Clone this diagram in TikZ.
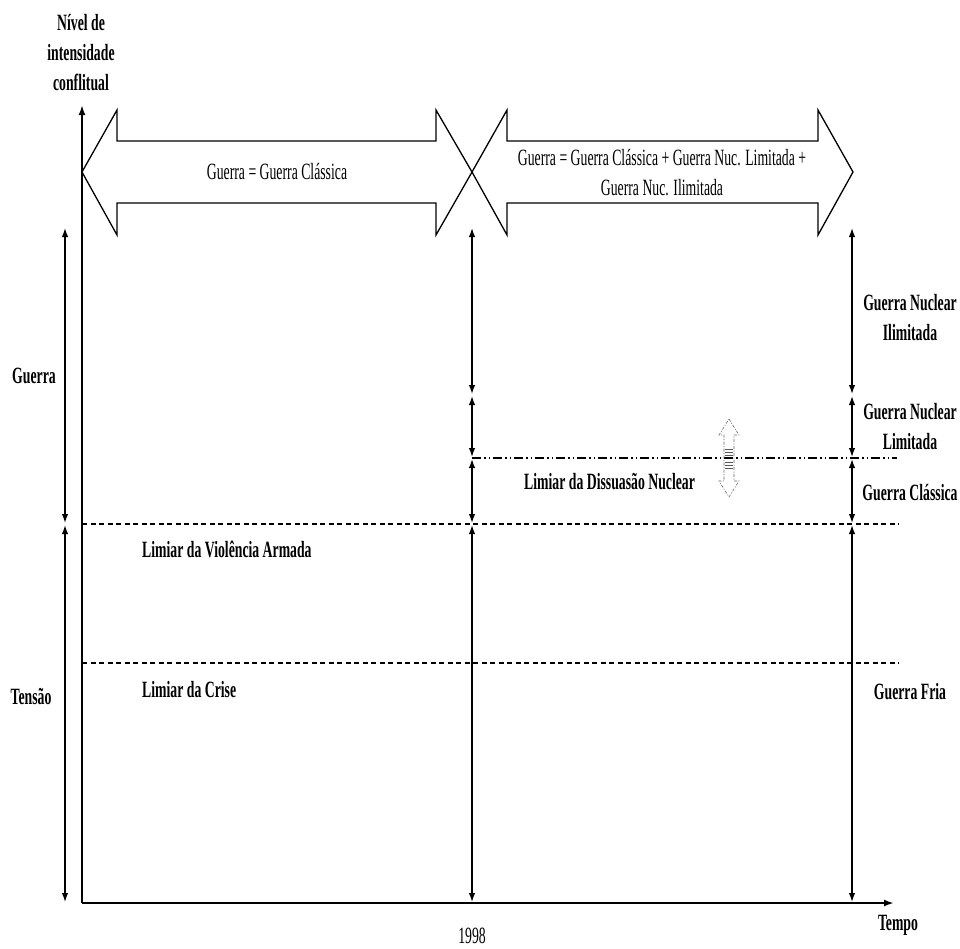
\documentclass[tikz,border=0pt]{standalone}
\usepackage{fontspec}
\setmainfont{Liberation Serif}[FakeStretch=0.59]
\usetikzlibrary{arrows.meta}
\begin{document}
\begin{tikzpicture}[x=1pt,y=-1pt,
  txt/.style={inner sep=0pt,font=\fontsize{23.3}{30}\selectfont,align=center},
  btxt/.style={inner sep=0pt,font=\fontsize{23.3}{30}\selectfont\bfseries,align=center},
  axis/.style={line width=2pt,-{Latex[length=10pt,width=7pt]}},
  darr/.style={line width=1.4pt,{Latex[length=9pt,width=6.5pt]}-{Latex[length=9pt,width=6.5pt]},shorten <=1pt,shorten >=1pt},
  blockarrow/.style={line width=1.3pt,draw=black},
  thr/.style={line width=1.4pt,dash pattern=on 5pt off 3.5pt},
  nuc/.style={line width=1.4pt,dash pattern=on 9pt off 3pt on 1.5pt off 3pt on 1.5pt off 3pt},
  small/.style={line width=0.6pt,draw=gray!80!black,dash pattern=on 3pt off 1.5pt on 1pt off 1.5pt}
]
\useasboundingbox (0,0) rectangle (960,948);

% axes
\coordinate (O) at (82,903);
\coordinate (Ytop) at (82,105);
\coordinate (Xend) at (894,903);
\draw[axis] (O) -- (Ytop);
\draw[axis] (O) -- (Xend);

% block arrows
\draw[blockarrow] (82,172) -- (117,110) -- (117,141) -- (436,141) -- (436,110) -- (472,172)
  -- (436,235) -- (436,203) -- (117,203) -- (117,235) -- cycle;
\draw[blockarrow] (472,172) -- (507,110) -- (507,141) -- (818,141) -- (818,110) -- (853,172)
  -- (818,235) -- (818,203) -- (507,203) -- (507,235) -- cycle;
\node[txt] (gclass) at (277,172) {Guerra = Guerra Clássica};
\node[txt] (gall) at (662,173) {Guerra = Guerra Clássica + Guerra Nuc. Limitada +\\Guerra Nuc. Ilimitada};

% level coordinates
\coordinate (L1) at (65,227);
\coordinate (L2) at (65,524);
\coordinate (L3) at (65,903);
\coordinate (M1) at (472,227);
\coordinate (M2) at (472,395);
\coordinate (M3) at (472,458);
\coordinate (M4) at (472,524);
\coordinate (M5) at (472,903);
\coordinate (R1) at (852,227);
\coordinate (R2) at (852,395);
\coordinate (R3) at (852,458);
\coordinate (R4) at (852,524);
\coordinate (R5) at (852,903);

% threshold lines
\coordinate (VA0) at (82,524);
\coordinate (VA1) at (899,524);
\coordinate (CR0) at (82,663);
\coordinate (CR1) at (899,663);
\coordinate (DN1) at (897,458);
\draw[thr] (VA0) -- (VA1);
\draw[thr] (CR0) -- (CR1);
\draw[nuc] (M3) -- (DN1);

% vertical double arrows
\draw[darr] (L1) -- (L2);
\draw[darr] (L2) -- (L3);
\draw[darr] (M1) -- (M2);
\draw[darr] (M2) -- (M3);
\draw[darr] (M3) -- (M4);
\draw[darr] (M4) -- (M5);
\draw[darr] (R1) -- (R2);
\draw[darr] (R2) -- (R3);
\draw[darr] (R3) -- (R4);
\draw[darr] (R4) -- (R5);

% small dashed up-down arrow
\draw[small] (729,419) -- (739,435) -- (734,435) -- (734,481) -- (739,481) -- (729,497)
  -- (719,481) -- (724,481) -- (724,435) -- (719,435) -- cycle;
\foreach \yy in {449,452,455,462,465,468}
  \draw[line width=0.5pt,draw=gray!70!black] (725,\yy) -- (733,\yy);

% labels
\node[btxt] (nivel) at (81,53) {Nível de\\intensidade\\conflitual};
\node[btxt] (guerra) at (34,376) {Guerra};
\node[btxt] (tensao) at (31,696) {Tensão};
\node[btxt,anchor=west] (lva) at (142,549) {Limiar da Violência Armada};
\node[btxt,anchor=west] (lcr) at (142,690) {Limiar da Crise};
\node[btxt,anchor=west] (ldn) at (524,482) {Limiar da Dissuasão Nuclear};
\node[btxt] (gni) at (910,318) {Guerra Nuclear\\Ilimitada};
\node[btxt] (gnl) at (910,427) {Guerra Nuclear\\Limitada};
\node[btxt] (gcl) at (910,493) {Guerra Clássica};
\node[btxt] (gfr) at (910,692) {Guerra Fria};
\node[btxt] (tempo) at (898,925) {Tempo};
\node[txt] (ano) at (472,936) {1998};
\end{tikzpicture}
\end{document}
